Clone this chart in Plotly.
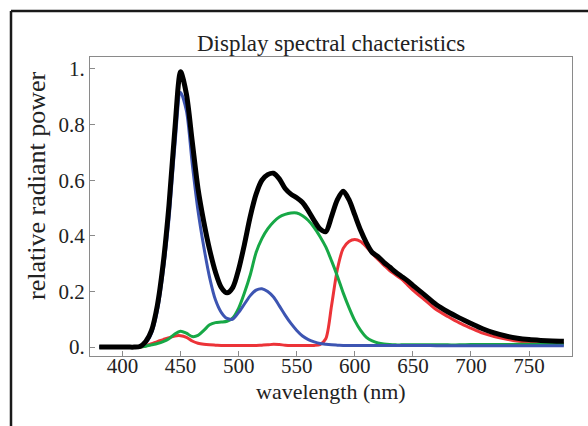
import plotly.graph_objects as go

# Wavelength sampling (nm): 5 nm steps through the emission features, 10 nm in the red tail
wavelength = [380, 385, 390, 395, 400, 405, 410, 415, 420, 425, 430, 435, 440, 445,
              450, 455, 460, 465, 470, 475, 480, 485, 490, 495, 500, 505, 510, 515,
              520, 525, 530, 535, 540, 545, 550, 555, 560, 565, 570, 575, 580, 585,
              590, 595, 600, 605, 610, 615, 620, 625, 630, 635, 640, 645, 650,
              660, 670, 680, 690, 700, 710, 720, 730, 740, 750, 760, 770, 780]

# Relative radiant power of each display primary
red_power = [0, 0, 0, 0, 0, 0, 0, 0, 0.005, 0.012, 0.02, 0.027, 0.034, 0.04,
             0.041, 0.035, 0.022, 0.014, 0.01, 0.008, 0.007, 0.006, 0.006, 0.006, 0.006, 0.006, 0.006, 0.006,
             0.007, 0.008, 0.01, 0.009, 0.007, 0.006, 0.006, 0.006, 0.006, 0.006, 0.009, 0.03, 0.15, 0.28,
             0.355, 0.38, 0.387, 0.38, 0.36, 0.337, 0.315, 0.295, 0.275, 0.26, 0.245, 0.225, 0.205,
             0.17, 0.135, 0.11, 0.087, 0.068, 0.05, 0.038, 0.029, 0.022, 0.018, 0.015, 0.013, 0.012]

green_power = [0, 0, 0, 0, 0, 0, 0, 0, 0.003, 0.008, 0.013, 0.02, 0.03, 0.047,
               0.057, 0.05, 0.038, 0.042, 0.06, 0.08, 0.088, 0.09, 0.093, 0.105, 0.14, 0.195, 0.26, 0.34,
               0.39, 0.425, 0.45, 0.468, 0.477, 0.482, 0.482, 0.472, 0.455, 0.43, 0.398, 0.36, 0.31, 0.255,
               0.195, 0.142, 0.095, 0.06, 0.035, 0.022, 0.015, 0.011, 0.009, 0.008, 0.008, 0.008, 0.008,
               0.008, 0.008, 0.008, 0.008, 0.009, 0.009, 0.009, 0.009, 0.01, 0.01, 0.01, 0.01, 0.01]

blue_power = [0, 0, 0, 0, 0, 0, 0, 0.002, 0.015, 0.05, 0.13, 0.27, 0.46, 0.72,
              0.915, 0.85, 0.66, 0.49, 0.36, 0.25, 0.17, 0.125, 0.103, 0.101, 0.125, 0.155, 0.185, 0.205,
              0.21, 0.2, 0.18, 0.148, 0.115, 0.085, 0.06, 0.04, 0.027, 0.019, 0.013, 0.01, 0.008, 0.007,
              0.006, 0.006, 0.006, 0.006, 0.006, 0.006, 0.006, 0.006, 0.006, 0.006, 0.006, 0.006, 0.006,
              0.006, 0.005, 0.005, 0.005, 0.005, 0.005, 0.005, 0.005, 0.005, 0.005, 0.005, 0.005, 0.005]

# Combined output of the display (white)
total_power = [0, 0, 0, 0, 0, 0, 0, 0.002, 0.02, 0.06, 0.15, 0.30, 0.51, 0.78,
               0.99, 0.91, 0.74, 0.57, 0.45, 0.35, 0.27, 0.215, 0.195, 0.215, 0.28, 0.37, 0.47, 0.55,
               0.60, 0.62, 0.625, 0.605, 0.57, 0.55, 0.537, 0.52, 0.49, 0.455, 0.425, 0.415, 0.47, 0.53,
               0.56, 0.53, 0.475, 0.42, 0.375, 0.34, 0.325, 0.305, 0.288, 0.27, 0.255, 0.24, 0.222,
               0.188, 0.153, 0.127, 0.105, 0.085, 0.066, 0.051, 0.04, 0.032, 0.027, 0.024, 0.022, 0.021]

x_ticks = [400, 450, 500, 550, 600, 650, 700, 750]
y_ticks = [0, 0.2, 0.4, 0.6, 0.8, 1.0]
y_tick_text = ["0.", "0.2", "0.4", "0.6", "0.8", "1."]

SERIF = "Liberation Serif, Times New Roman, serif"

fig = go.Figure()
series = [
    (red_power, "#ec3338", 3),
    (green_power, "#17a846", 3),
    (blue_power, "#3d55b2", 3),
    (total_power, "#000000", 5),
]
for values, color, width in series:
    fig.add_trace(go.Scatter(
        x=wavelength, y=values, mode="lines",
        line=dict(color=color, width=width, shape="spline", smoothing=0.8),
        showlegend=False, hoverinfo="skip",
    ))

axis_common = dict(
    showgrid=False, zeroline=False,
    showline=True, mirror=True, linecolor="#8a8a8a", linewidth=1.2,
    ticks="inside", ticklen=5, tickwidth=1, tickcolor="#8a8a8a",
    tickfont=dict(family=SERIF, size=21, color="#222"),
)

fig.update_xaxes(range=[372, 787], tickvals=x_ticks, ticklabelstandoff=-9, **axis_common)
fig.update_yaxes(range=[-0.032, 1.043], tickvals=y_ticks, ticktext=y_tick_text, **axis_common)

fig.update_layout(
    width=588, height=426,
    margin=dict(l=90, r=16, t=57, b=70),
    paper_bgcolor="white", plot_bgcolor="white",
    annotations=[
        dict(text="Display spectral chacteristics", xref="paper", yref="paper",
             x=0.5, y=1.0435, xanchor="center", yanchor="middle", showarrow=False,
             font=dict(family=SERIF, size=23, color="#222")),
        dict(text="wavelength (nm)", xref="paper", yref="paper",
             x=0.5, y=-0.12, xanchor="center", yanchor="middle", showarrow=False,
             font=dict(family=SERIF, size=22, color="#222")),
        dict(text="relative radiant power", xref="paper", yref="paper",
             x=-0.11, y=0.5686, xanchor="center", yanchor="middle", showarrow=False,
             textangle=-90, font=dict(family=SERIF, size=26, color="#222")),
    ],
    shapes=[
        # outer frame edges (top and left)
        dict(type="line", xref="paper", yref="paper", x0=-0.1639, x1=1.04, y0=1.1538, y1=1.1538,
             line=dict(color="#1a1a1a", width=2.5)),
        dict(type="line", xref="paper", yref="paper", x0=-0.1639, x1=-0.1639, y0=1.1538, y1=-0.25,
             line=dict(color="#1a1a1a", width=2.5)),
    ],
)

fig.write_html("out.html")
